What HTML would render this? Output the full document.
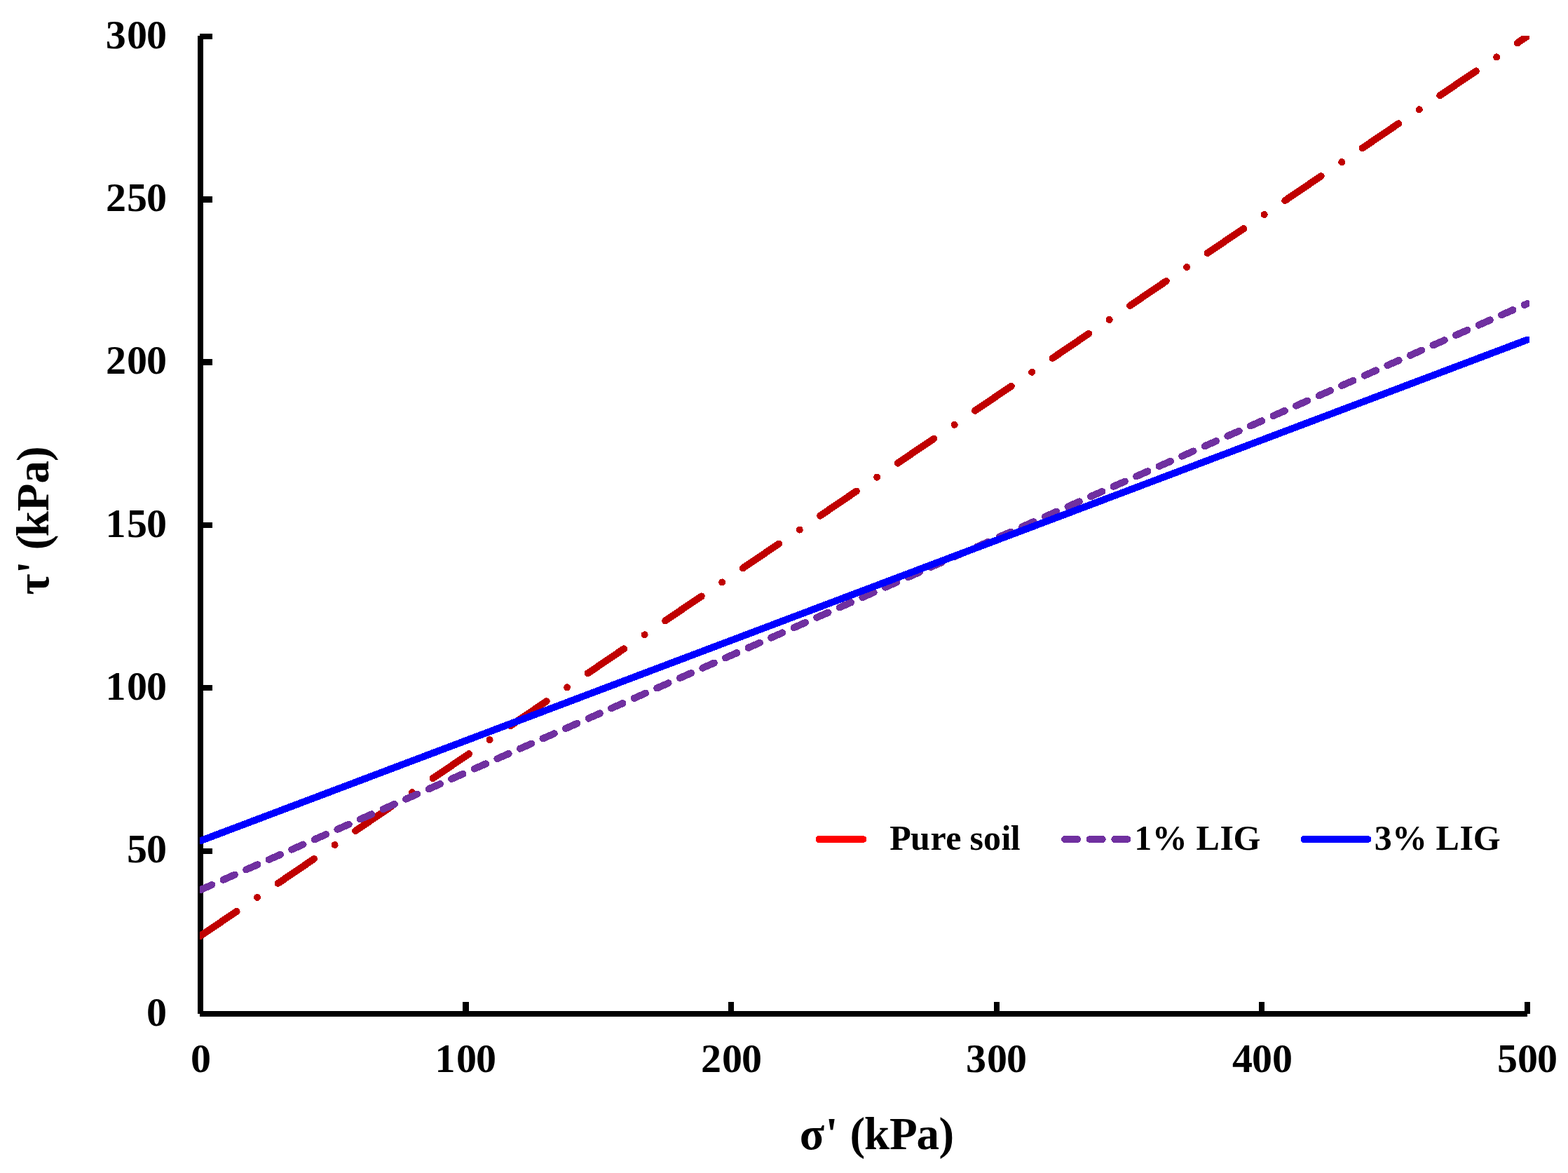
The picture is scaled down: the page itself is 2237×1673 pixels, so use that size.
<!DOCTYPE html>
<html lang="en">
<head>
<meta charset="utf-8">
<title>Shear strength envelopes</title>
<style>
html,body{margin:0;padding:0;background:#fff;}
body{width:2237px;height:1673px;overflow:hidden;}
svg{display:block;}
text{font-family:"Liberation Serif","DejaVu Serif",serif;font-weight:bold;fill:#000;}
.tick{font-size:58.0px;}
.title{font-size:65.0px;}
.leg{font-size:50.0px;}
</style>
</head>
<body>
<svg width="2237" height="1673" viewBox="0 0 2237 1673" role="img" aria-label="Shear strength envelopes: Pure soil, 1% LIG, 3% LIG">
<rect x="0" y="0" width="2237" height="1673" fill="#ffffff"/>
<defs><clipPath id="plot"><rect x="285" y="51" width="1897" height="1396"/></clipPath></defs>
<g id="axes" fill="#000" shape-rendering="crispEdges">
<rect x="282" y="51" width="8" height="1395"/>
<rect x="285" y="1442" width="1894" height="8"/>
<rect x="285" y="48" width="18" height="8"/>
<rect x="285" y="280" width="18" height="9"/>
<rect x="285" y="512" width="18" height="9"/>
<rect x="285" y="745" width="18" height="8"/>
<rect x="285" y="977" width="18" height="8"/>
<rect x="285" y="1210" width="18" height="8"/>
<rect x="660" y="1429" width="9" height="17"/>
<rect x="1039" y="1429" width="8" height="17"/>
<rect x="1418" y="1429" width="8" height="17"/>
<rect x="1796" y="1429" width="8" height="17"/>
<rect x="2175" y="1429" width="8" height="17"/>
</g>
<g id="series" clip-path="url(#plot)" fill="none" stroke-linecap="round" shape-rendering="crispEdges">
<path d="M286.00 1334.86L2179.00 51.70" stroke="#c00000" stroke-width="10.0" stroke-dasharray="62.30 35.60 0.01 35.60"/>
<path d="M286.00 1269.18L2179.00 433.00" stroke="#7030a0" stroke-width="10.0" stroke-dasharray="17.80 17.80"/>
<path d="M286.00 1199.21L2179.00 484.60" stroke="#0000ff" stroke-width="10.0"/>
</g>
<g id="tick-labels">
<text class="tick" x="150.7 180.9 209.1" y="69.4">300</text>
<text class="tick" x="151.0 180.9 208.9" y="301.4">250</text>
<text class="tick" x="151.0 181.0 208.9" y="533.4">200</text>
<text class="tick" x="150.6 180.9 208.9" y="766.4">150</text>
<text class="tick" x="150.6 181.0 208.9" y="998.4">100</text>
<text class="tick" x="180.9 208.9" y="1230.4">50</text>
<text class="tick" x="208.9" y="1463.4">0</text>
<text class="tick" x="271.9" y="1529.4">0</text>
<text class="tick" x="620.6 651.1 679.1" y="1529.4">100</text>
<text class="tick" x="1000.0 1030.0 1058.1" y="1529.4">200</text>
<text class="tick" x="1377.9 1408.0 1436.1" y="1529.4">300</text>
<text class="tick" x="1758.1 1786.0 1815.1" y="1529.4">400</text>
<text class="tick" x="2135.9 2165.1 2193.0" y="1529.4">500</text>
</g>
<text class="title" x="1140.8 1177.4 1195.5 1212.4 1233.1 1269.0 1307.6 1339.4" y="1638.7">σ' (kPa)</text>
<text class="title" x="-848.6 -818.2 -800.2 -784.3 -765.2 -729.2 -689.6 -658.0" y="0" transform="translate(68.9 0) rotate(-90)">τ' (kPa)</text>
<g id="legend-keys" fill="none" stroke-linecap="round" shape-rendering="crispEdges">
<path d="M1168.6 1197H1231.3" stroke="#ff0000" stroke-width="10"/>
<path d="M1519.1 1197H1609.7" stroke="#7030a0" stroke-width="10" stroke-dasharray="18 17.6"/>
<path d="M1860.5 1197H1951.3" stroke="#0000ff" stroke-width="10"/>
</g>
<text class="leg" x="1269.2 1299.1 1327.4 1349.3 1371.5 1383.5 1403.1 1428.6 1441.7" y="1211.8">Pure soil</text>
<text class="leg" x="1618.3 1643.8 1693.8 1706.5 1740.4 1759.6" y="1211.8">1% LIG</text>
<text class="leg" x="1960.8 1986.0 2036.0 2048.5 2082.6 2101.8" y="1211.8">3% LIG</text>
</svg>
</body>
</html>
